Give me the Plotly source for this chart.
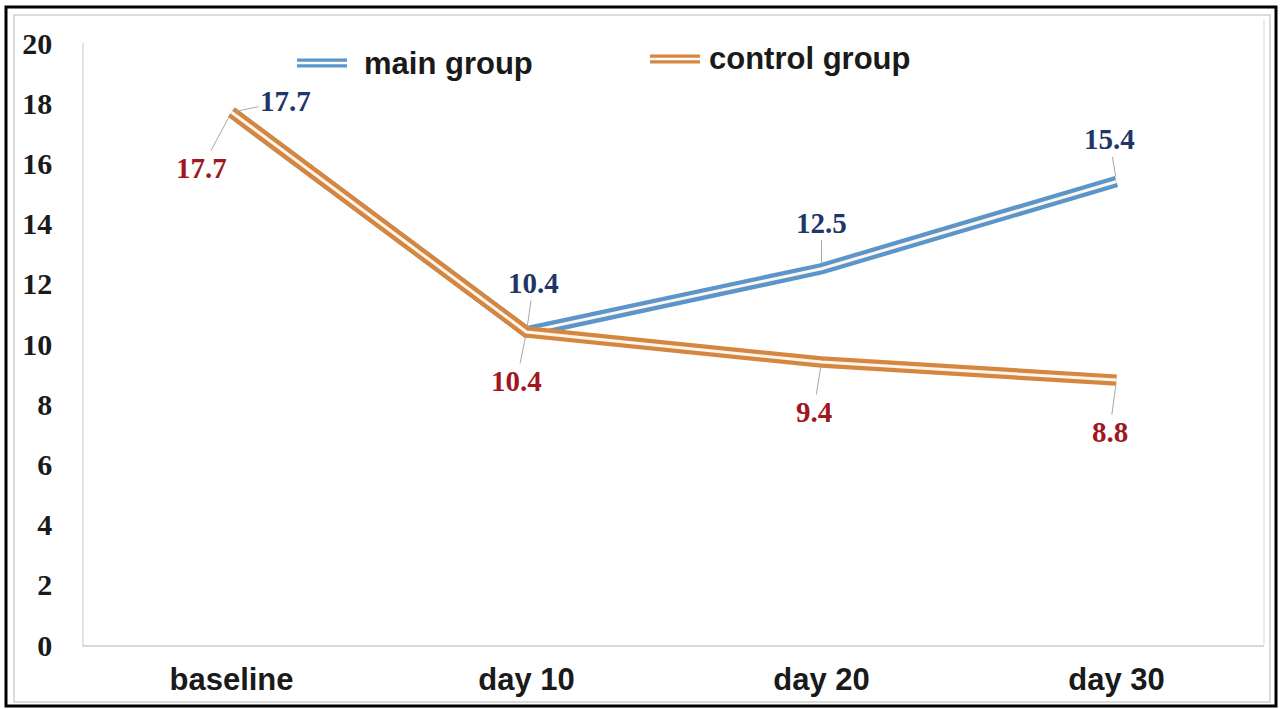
import plotly.graph_objects as go

categories = ["baseline", "day 10", "day 20", "day 30"]
main_group = [17.7, 10.4, 12.5, 15.4]
control_group = [17.7, 10.4, 9.4, 8.8]
y_ticks = [0, 2, 4, 6, 8, 10, 12, 14, 16, 18, 20]

BLUE = "#5b95c9"
ORANGE = "#d6873f"
BLUE_TXT = "#1f3668"
RED_TXT = "#a0171d"

W, H = 1282, 709
L, R, T, B = 84, 1264, 43, 645


def px(x):
    return (x - L) / (R - L)


def py(y):
    return (B - y) / (B - T)


fig = go.Figure()
for vals, col, name in [(main_group, BLUE, "main group"), (control_group, ORANGE, "control group")]:
    fig.add_trace(go.Scatter(x=categories, y=vals, mode="lines", name=name,
                             line=dict(color=col, width=11.5), showlegend=False,
                             hoverinfo="skip"))
    fig.add_trace(go.Scatter(x=categories, y=vals, mode="lines", name=name,
                             line=dict(color="#fdf6ee", width=3), showlegend=False,
                             hoverinfo="skip"))

serif = dict(family="Liberation Serif", size=29, weight="bold")
sans = dict(family="Liberation Sans", size=31, weight="bold", color="#1a1a1a")

# data labels: (ax, ay) offsets in pixels
main_off = [(54, -11), (7, -49), (0, -46), (-7, -42)]
ctrl_off = [(-30, 56), (-10, 49), (-8, 50), (-7, 52)]
annotations = []
for cat, v, (ax, ay) in zip(categories, main_group, main_off):
    annotations.append(dict(x=cat, y=v, xref="x", yref="y", text=f"{v:.1f}",
                            showarrow=True, arrowhead=0, arrowwidth=1, arrowcolor="#a8a8a8",
                            ax=ax, ay=ay, standoff=5,
                            font=dict(serif, color=BLUE_TXT)))
for cat, v, (ax, ay) in zip(categories, control_group, ctrl_off):
    annotations.append(dict(x=cat, y=v, xref="x", yref="y", text=f"{v:.1f}",
                            showarrow=True, arrowhead=0, arrowwidth=1, arrowcolor="#a8a8a8",
                            ax=ax, ay=ay, standoff=5,
                            font=dict(serif, color=RED_TXT)))

shapes = []
# outer frames
shapes.append(dict(type="rect", xref="paper", yref="paper", x0=px(6), x1=px(1276), y0=py(7), y1=py(706),
                   line=dict(color="black", width=3), layer="above"))
shapes.append(dict(type="rect", xref="paper", yref="paper", x0=px(14), x1=px(1270), y0=py(15), y1=py(702),
                   line=dict(color="#cfcfcf", width=1.5), layer="below"))
shapes.append(dict(type="line", xref="paper", yref="paper", x0=1, x1=1, y0=0, y1=py(20),
                   line=dict(color="#e3e3e3", width=1.5), layer="below"))

# legend (manual)
legend_items = [("main group", BLUE, 297, 347, 63, 362), ("control group", ORANGE, 650, 700, 59, 707)]
for name, col, x0, x1, yy, tx in legend_items:
    shapes.append(dict(type="line", xref="paper", yref="paper", x0=px(x0), x1=px(x1), y0=py(yy), y1=py(yy),
                       line=dict(color=col, width=9), layer="above"))
    shapes.append(dict(type="line", xref="paper", yref="paper", x0=px(x0), x1=px(x1), y0=py(yy), y1=py(yy),
                       line=dict(color="white", width=2.5), layer="above"))
    annotations.append(dict(x=px(tx), y=py(yy), xref="paper", yref="paper", text=name,
                            showarrow=False, xanchor="left", yanchor="middle", font=sans))

fig.update_layout(
    width=W, height=H,
    margin=dict(l=L, r=W - R, t=T, b=H - B, autoexpand=False),
    paper_bgcolor="white", plot_bgcolor="white",
    showlegend=False,
    annotations=annotations, shapes=shapes,
    xaxis=dict(type="category", range=[-0.5, 3.5], showgrid=False, zeroline=False,
               showline=True, linecolor="#d9d9d9", linewidth=1.5, ticks="",
               tickfont=sans, ticklabelstandoff=6),
    yaxis=dict(range=[0, 20], tickvals=y_ticks, showgrid=False, zeroline=False,
               showline=True, linecolor="#e3e3e3", linewidth=1.5, ticks="",
               tickfont=dict(serif, size=30, color="#1a1a1a"), ticklabelstandoff=24),
)

fig.write_html("out.html", config={"displayModeBar": False},
               post_script="document.body.style.margin='0';document.body.style.overflow='hidden';")
